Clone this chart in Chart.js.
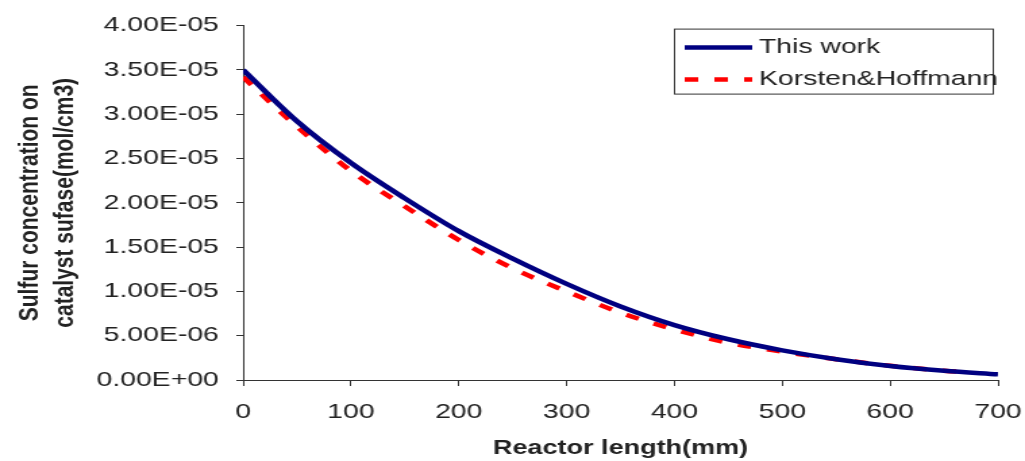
<!DOCTYPE html>
<html>
<head>
<meta charset="utf-8">
<script src="https://cdn.jsdelivr.net/npm/chart.js@4.4.1/dist/chart.umd.min.js"></script>
<style>
  html, body { margin: 0; padding: 0; background: #fff; overflow: hidden; }
</style>
</head>
<body>
<!-- drawn narrow and stretched sideways, like the original picture -->
<canvas id="chart" width="759" height="461" style="width:1025px;height:461px"></canvas>
<script>
var lengthMm = [0, 50, 100, 150, 200, 250, 300, 350, 400, 450, 500, 550, 600, 650, 700];
var thisWork = [3.50e-5, 2.92e-5, 2.45e-5, 2.05e-5, 1.68e-5, 1.37e-5, 1.085e-5, 8.3e-6,
                6.2e-6, 4.6e-6, 3.35e-6, 2.35e-6, 1.58e-6, 1.04e-6, 0.64e-6];

var korstenMm = [0, 50, 100, 150, 200, 250, 300, 350, 400, 450, 500, 550, 600, 650, 675];
var korsten = [3.42e-5, 2.86e-5, 2.36e-5, 1.96e-5, 1.58e-5, 1.26e-5, 1.0e-5, 7.6e-6,
               5.7e-6, 4.2e-6, 3.2e-6, 2.35e-6, 1.6e-6, 1.05e-6, 0.85e-6];

var xTicks = [0, 100, 200, 300, 400, 500, 600, 700];
var yTicks = [0, 5e-6, 1e-5, 1.5e-5, 2e-5, 2.5e-5, 3e-5, 3.5e-5, 4e-5];

var fontFamily = '"Liberation Sans", Arial, sans-serif';
var textColor = "#222";
var axisColor = "#333";

function points(xs, ys) {
  return xs.map(function (x, i) {
    return { x: x, y: ys[i] };
  });
}

// Excel style 0.00E+00
function sci(v) {
  var parts = v.toExponential(2).split("e");
  var e = parseInt(parts[1]);
  return parts[0] + "E" + (e < 0 ? "-" : "+") + String(Math.abs(e)).padStart(2, "0");
}

var legendBox = {
  id: "legendBox",
  afterDraw: function (chart) {
    var ctx = chart.ctx;
    var area = chart.chartArea;
    var w = 236, h = 65;
    var x = area.right - w - 4;
    var y = area.top + 3;
    ctx.save();
    ctx.fillStyle = "#fff";
    ctx.fillRect(x, y, w, h);
    ctx.strokeStyle = axisColor;
    ctx.lineWidth = 1;
    ctx.strokeRect(x + 0.5, y + 0.5, w, h);
    chart.data.datasets.forEach(function (ds, i) {
      var ly = y + 19 + i * 32;
      ctx.beginPath();
      ctx.setLineDash(ds.borderDash || []);
      ctx.strokeStyle = ds.borderColor;
      ctx.lineWidth = ds.borderWidth;
      ctx.moveTo(x + 8, ly);
      ctx.lineTo(x + 58, ly);
      ctx.stroke();
      ctx.setLineDash([]);
      ctx.fillStyle = textColor;
      ctx.font = "21px " + fontFamily;
      ctx.textBaseline = "middle";
      ctx.textAlign = "left";
      ctx.fillText(ds.label, x + 63, ly);
    });
    ctx.restore();
  },
};

var config = {
  type: "line",
  data: {
    datasets: [
      {
        label: "This work",
        data: points(lengthMm, thisWork),
        borderColor: "#000080",
        borderWidth: 4.5,
        pointRadius: 0,
        cubicInterpolationMode: "monotone",
      },
      {
        label: "Korsten&Hoffmann",
        data: points(korstenMm, korsten),
        borderColor: "#ff0000",
        borderWidth: 4.5,
        borderDash: [10, 12],
        pointRadius: 0,
        cubicInterpolationMode: "monotone",
      },
    ],
  },
  options: {
    responsive: false,
    animation: false,
    devicePixelRatio: 1,
    layout: { padding: { left: 0, right: 20, top: 22, bottom: 0 } },
    plugins: {
      legend: { display: false },
      tooltip: { enabled: false },
    },
    scales: {
      x: {
        type: "linear",
        min: 0,
        max: 700,
        afterBuildTicks: function (scale) {
          scale.ticks = xTicks.map(function (v) { return { value: v }; });
        },
        afterFit: function (scale) {
          scale.height = 81;
          scale.paddingLeft = 0;
          scale.paddingRight = 0;
        },
        grid: { drawOnChartArea: false, drawTicks: true, tickLength: 6, color: axisColor },
        border: { display: true, color: axisColor, width: 1 },
        ticks: {
          color: textColor,
          padding: 14,
          maxRotation: 0,
          font: { family: fontFamily, size: 21 },
        },
        title: {
          display: true,
          text: "Reactor length(mm)",
          color: textColor,
          padding: { top: 0, bottom: 1 },
          font: { family: fontFamily, size: 20, weight: "bold" },
        },
      },
      y: {
        min: 0,
        max: 4e-5,
        afterBuildTicks: function (scale) {
          scale.ticks = yTicks.map(function (v) { return { value: v }; });
        },
        afterFit: function (scale) {
          scale.width = 180;
        },
        grid: { drawOnChartArea: false, drawTicks: true, tickLength: 5, color: axisColor },
        border: { display: true, color: axisColor, width: 1 },
        ticks: {
          color: textColor,
          padding: 13,
          font: { family: fontFamily, size: 21 },
          callback: function (v) { return sci(v); },
        },
        title: {
          display: true,
          text: ["Sulfur concentration on", "catalyst sufase(mol/cm3)"],
          color: textColor,
          padding: { top: 10, bottom: 0 },
          font: { family: fontFamily, size: 21, weight: "bold" },
        },
      },
    },
  },
  plugins: [legendBox],
};

var ctx = document.getElementById("chart").getContext("2d");
var chart = new Chart(ctx, config);
</script>
</body>
</html>
